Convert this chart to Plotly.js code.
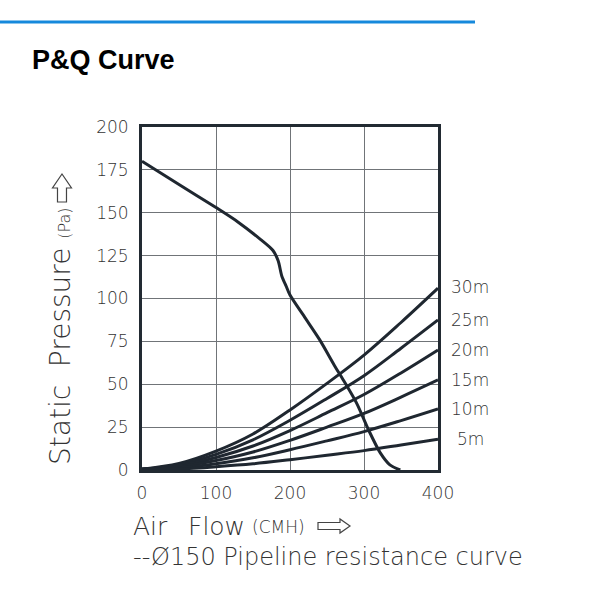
<!DOCTYPE html>
<html>
<head>
<meta charset="utf-8">
<script src="https://cdn.plot.ly/plotly-3.0.1.min.js"></script>
<style>html,body{margin:0;padding:0;background:#fff;}#chart{width:600px;height:600px;}</style>
</head>
<body>
<div id="chart"></div>
<script>
// Fan P-Q curve
const fanFlow     = [0, 50, 100, 130, 160, 177, 184, 189, 195, 200, 220, 240, 260, 272, 290, 306, 322, 335, 349];
const fanPressure = [180, 166.5, 153, 144.5, 134.5, 128, 122, 113, 107, 102, 89, 76, 61, 52.5, 39, 23.5, 10, 3, 0];

// Pipeline resistance curves (Ø150)
const pipeFlow = [0, 50, 100, 150, 200, 250, 300, 350, 400];
const pipe30m  = [0.5, 3.8, 11, 21, 35, 50.5, 67, 86, 106];
const pipe25m  = [0.5, 3.1, 9.1, 17.6, 29, 41.7, 55, 71, 87.5];
const pipe20m  = [0.5, 2.5, 7.3, 14, 23, 33.4, 44, 56.6, 70];
const pipe15m  = [0.5, 1.9, 5.5, 10.5, 17.3, 25, 33, 42.5, 52.5];
const pipe10m  = [0.5, 1.3, 3.7, 7.1, 11.8, 17, 22.4, 28.8, 35.6];
const pipe5m   = [0.5, 0.6, 1.9, 3.6, 6, 8.6, 11.3, 14.6, 18];
const pipeLabels = ['30m', '25m', '20m', '15m', '10m', '5m'];
const pipeSeries = [pipe30m, pipe25m, pipe20m, pipe15m, pipe10m, pipe5m];

const xTicks = [0, 100, 200, 300, 400];
const yTicks = [0, 25, 50, 75, 100, 125, 150, 175, 200];

const curveColor = '#1f2730';
const textColor = '#333333';
const thinFont = 'DejaVu Sans';
const thinWeight = 200;

// plot area in pixels (for placing decorations)
const PL = 142, PR = 438, PT = 127, PB = 470;
const px2x = p => (p - PL) / (PR - PL);
const px2y = p => (PB - p) / (PB - PT);
function pathFromPx(pts) {
  return 'M ' + pts.map(p => px2x(p[0]).toFixed(4) + ',' + px2y(p[1]).toFixed(4)).join(' L ') + ' Z';
}
const thin = size => ({family: thinFont, size: size, color: textColor, weight: thinWeight});

const traces = [];
pipeSeries.forEach((s, i) => {
  traces.push({x: pipeFlow, y: s, mode: 'lines', type: 'scatter',
    line: {color: curveColor, width: 3, shape: 'spline'}, hoverinfo: 'skip', name: pipeLabels[i]});
});
traces.push({x: fanFlow, y: fanPressure, mode: 'lines', type: 'scatter',
  line: {color: curveColor, width: 3, shape: 'spline', smoothing: 0.8}, hoverinfo: 'skip', name: 'P-Q'});

const annotations = pipeSeries.map((s, i) => ({
  xref: 'paper', yref: 'y', x: pipeLabels[i] === '5m' ? 1.057 : 1.037, y: s[s.length - 1] + (i === 0 ? 0.5 : 0),
  xanchor: 'left', yanchor: 'middle', text: pipeLabels[i], showarrow: false,
  font: thin(17)
}));

annotations.push({
  xref: 'paper', yref: 'paper', x: px2x(60), y: px2y(336), xanchor: 'center', yanchor: 'middle',
  textangle: -90, showarrow: false,
  text: 'Static  Pressure <span style="font-size:16px">(Pa)</span>',
  font: thin(28)
});
annotations.push({
  xref: 'paper', yref: 'paper', x: px2x(131), y: px2y(526), xanchor: 'left', yanchor: 'middle',
  showarrow: false, text: 'Air', font: thin(25)
});
annotations.push({
  xref: 'paper', yref: 'paper', x: px2x(186), y: px2y(526), xanchor: 'left', yanchor: 'middle',
  showarrow: false, text: 'Flow', font: thin(25)
});
annotations.push({
  xref: 'paper', yref: 'paper', x: px2x(250), y: px2y(527), xanchor: 'left', yanchor: 'middle',
  showarrow: false, text: '(CMH)', font: thin(17)
});
annotations.push({
  xref: 'paper', yref: 'paper', x: px2x(131), y: px2y(557), xanchor: 'left', yanchor: 'middle',
  showarrow: false,
  text: '--Ø150 Pipeline resistance curve',
  font: thin(24)
});
annotations.push({
  xref: 'paper', yref: 'paper', x: px2x(30), y: px2y(60), xanchor: 'left', yanchor: 'middle',
  showarrow: false, text: '<b>P&amp;Q Curve</b>',
  font: {family: 'Liberation Sans', size: 27, color: '#000000'}
});

const arrowUp = pathFromPx([[62,174],[52.5,188],[57.5,188],[57.5,202],[66.5,202],[66.5,188],[71.5,188]]);
const arrowRight = pathFromPx([[350,526],[340,519],[340,522.5],[318,522.5],[318,529.5],[340,529.5],[340,533]]);

const layout = {
  width: 600, height: 600,
  margin: {l: PL, r: 600 - PR, t: PT, b: 600 - PB},
  paper_bgcolor: '#ffffff', plot_bgcolor: '#ffffff',
  showlegend: false,
  xaxis: {range: [0, 400], tickvals: xTicks, ticktext: xTicks.map(String),
    showgrid: true, gridcolor: '#707478', gridwidth: 1, zeroline: false,
    showline: true, mirror: true, linecolor: '#222a32', linewidth: 3,
    ticks: 'outside', ticklen: 6, tickcolor: 'rgba(0,0,0,0)',
    tickfont: thin(17)},
  yaxis: {range: [0, 200], tickvals: yTicks, ticktext: yTicks.map(String),
    showgrid: true, gridcolor: '#707478', gridwidth: 1, zeroline: false,
    showline: true, mirror: true, linecolor: '#222a32', linewidth: 3,
    ticks: 'outside', ticklen: 7, tickcolor: 'rgba(0,0,0,0)',
    tickfont: thin(17)},
  shapes: [
    {type: 'line', xref: 'paper', yref: 'paper', x0: px2x(0), x1: px2x(475), y0: px2y(22), y1: px2y(22),
      line: {color: '#1689dc', width: 3}},
    {type: 'path', xref: 'paper', yref: 'paper', path: arrowUp, line: {color: '#444444', width: 1.2}},
    {type: 'path', xref: 'paper', yref: 'paper', path: arrowRight, line: {color: '#444444', width: 1.2}}
  ],
  annotations: annotations
};

Plotly.newPlot('chart', traces, layout, {staticPlot: true, displayModeBar: false});
</script>
</body>
</html>
